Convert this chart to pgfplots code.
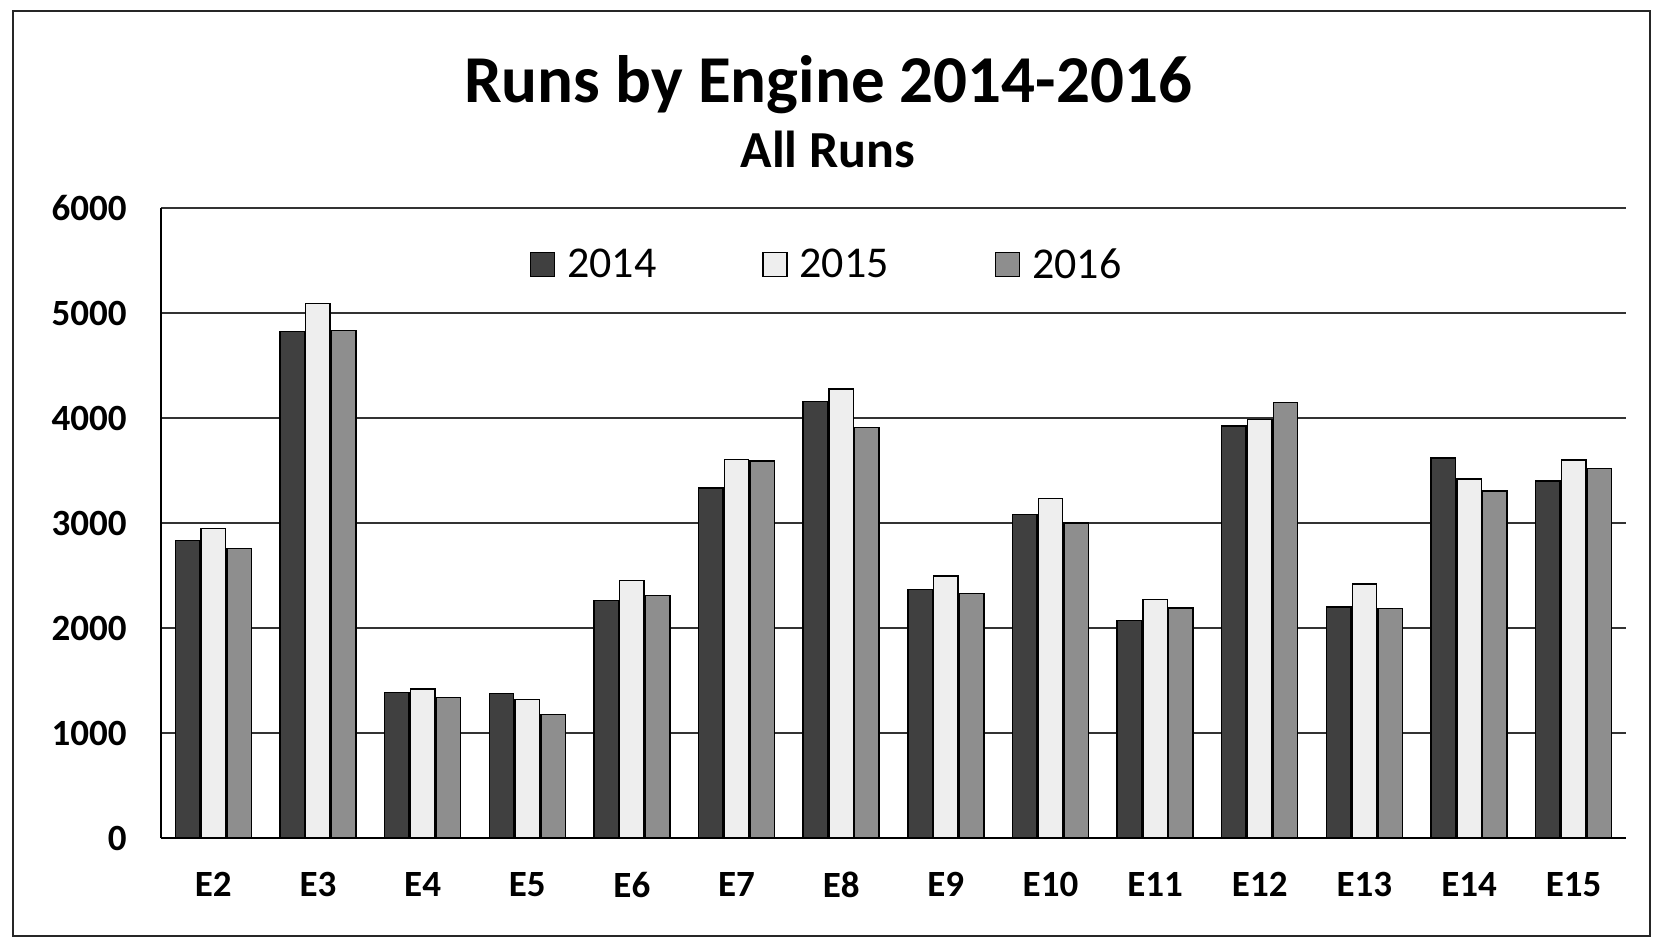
\documentclass[border=0pt]{standalone}
\usepackage{fontspec}
\setmainfont{Carlito}
\usepackage{pgfplots}
\pgfplotsset{compat=1.18}
\definecolor{c14}{HTML}{404040}
\definecolor{c15}{HTML}{EEEEEE}
\definecolor{c16}{HTML}{8E8E8E}
\begin{document}
\begin{tikzpicture}[x=1pt,y=1pt]
\path[use as bounding box] (0,0) rectangle (832,472);
\draw[line width=1pt, black!85] (6.5,4) rectangle (825,466.5);
\node[anchor=base, font=\fontsize{33.5}{36}\selectfont\bfseries] at (414,420.5) {Runs by Engine 2014-2016};
\node[anchor=base, font=\fontsize{26}{28}\selectfont\bfseries] at (414,388) {All Runs};
\begin{axis}[
  at={(80.5pt,53pt)}, anchor=south west,
  scale only axis, width=732.5pt, height=315pt,
  ymin=0, ymax=6000, xmin=-0.5, xmax=13.5,
  ybar=0.7pt, bar width=12.2pt,
  xtick={0,...,13},
  xticklabels={E2,E3,E4,E5,E6,E7,E8,E9,E10,E11,E12,E13,E14,E15},
  ytick={0,1000,...,6000},
  /pgf/number format/assume math mode=true,
  /pgf/number format/1000 sep={},
  major tick length=0pt,
  ymajorgrids,
  major grid style={black!80, line width=0.55pt},
  axis x line*=bottom, axis y line*=left,
  axis line style={black, line width=0.7pt},
  yticklabel style={font=\fontsize{18.5}{20}\selectfont\bfseries, anchor=east, inner sep=0pt, xshift=-17pt},
  xticklabel style={font=\fontsize{18.5}{20}\selectfont\bfseries, anchor=north, inner sep=0pt, yshift=-17pt},
  legend image code/.code={\draw[#1, draw=black, line width=0.6pt] (0pt,-6pt) rectangle (12pt,6pt); \path (16pt,0pt);},
  legend style={at={(0.455,0.91)}, anchor=center, draw=none, fill=none,
    font=\fontsize{22}{24}\selectfont, legend columns=3,
    /tikz/every even column/.append style={column sep=51pt}},
  clip=false,
]
\addplot[fill=c14, draw=black, line width=0.7pt] coordinates {
 (0,2835) (1,4825) (2,1385) (3,1375) (4,2260) (5,3335) (6,4160)
 (7,2365) (8,3080) (9,2070) (10,3925) (11,2200) (12,3620) (13,3400)};
\addplot[fill=c15, draw=black, line width=0.7pt] coordinates {
 (0,2950) (1,5090) (2,1420) (3,1320) (4,2450) (5,3605) (6,4275)
 (7,2495) (8,3235) (9,2270) (10,3985) (11,2420) (12,3420) (13,3600)};
\addplot[fill=c16, draw=black, line width=0.7pt] coordinates {
 (0,2755) (1,4835) (2,1340) (3,1175) (4,2310) (5,3590) (6,3910)
 (7,2330) (8,3000) (9,2190) (10,4150) (11,2185) (12,3305) (13,3520)};
\legend{2014,2015,2016}
\end{axis}
\end{tikzpicture}
\end{document}
